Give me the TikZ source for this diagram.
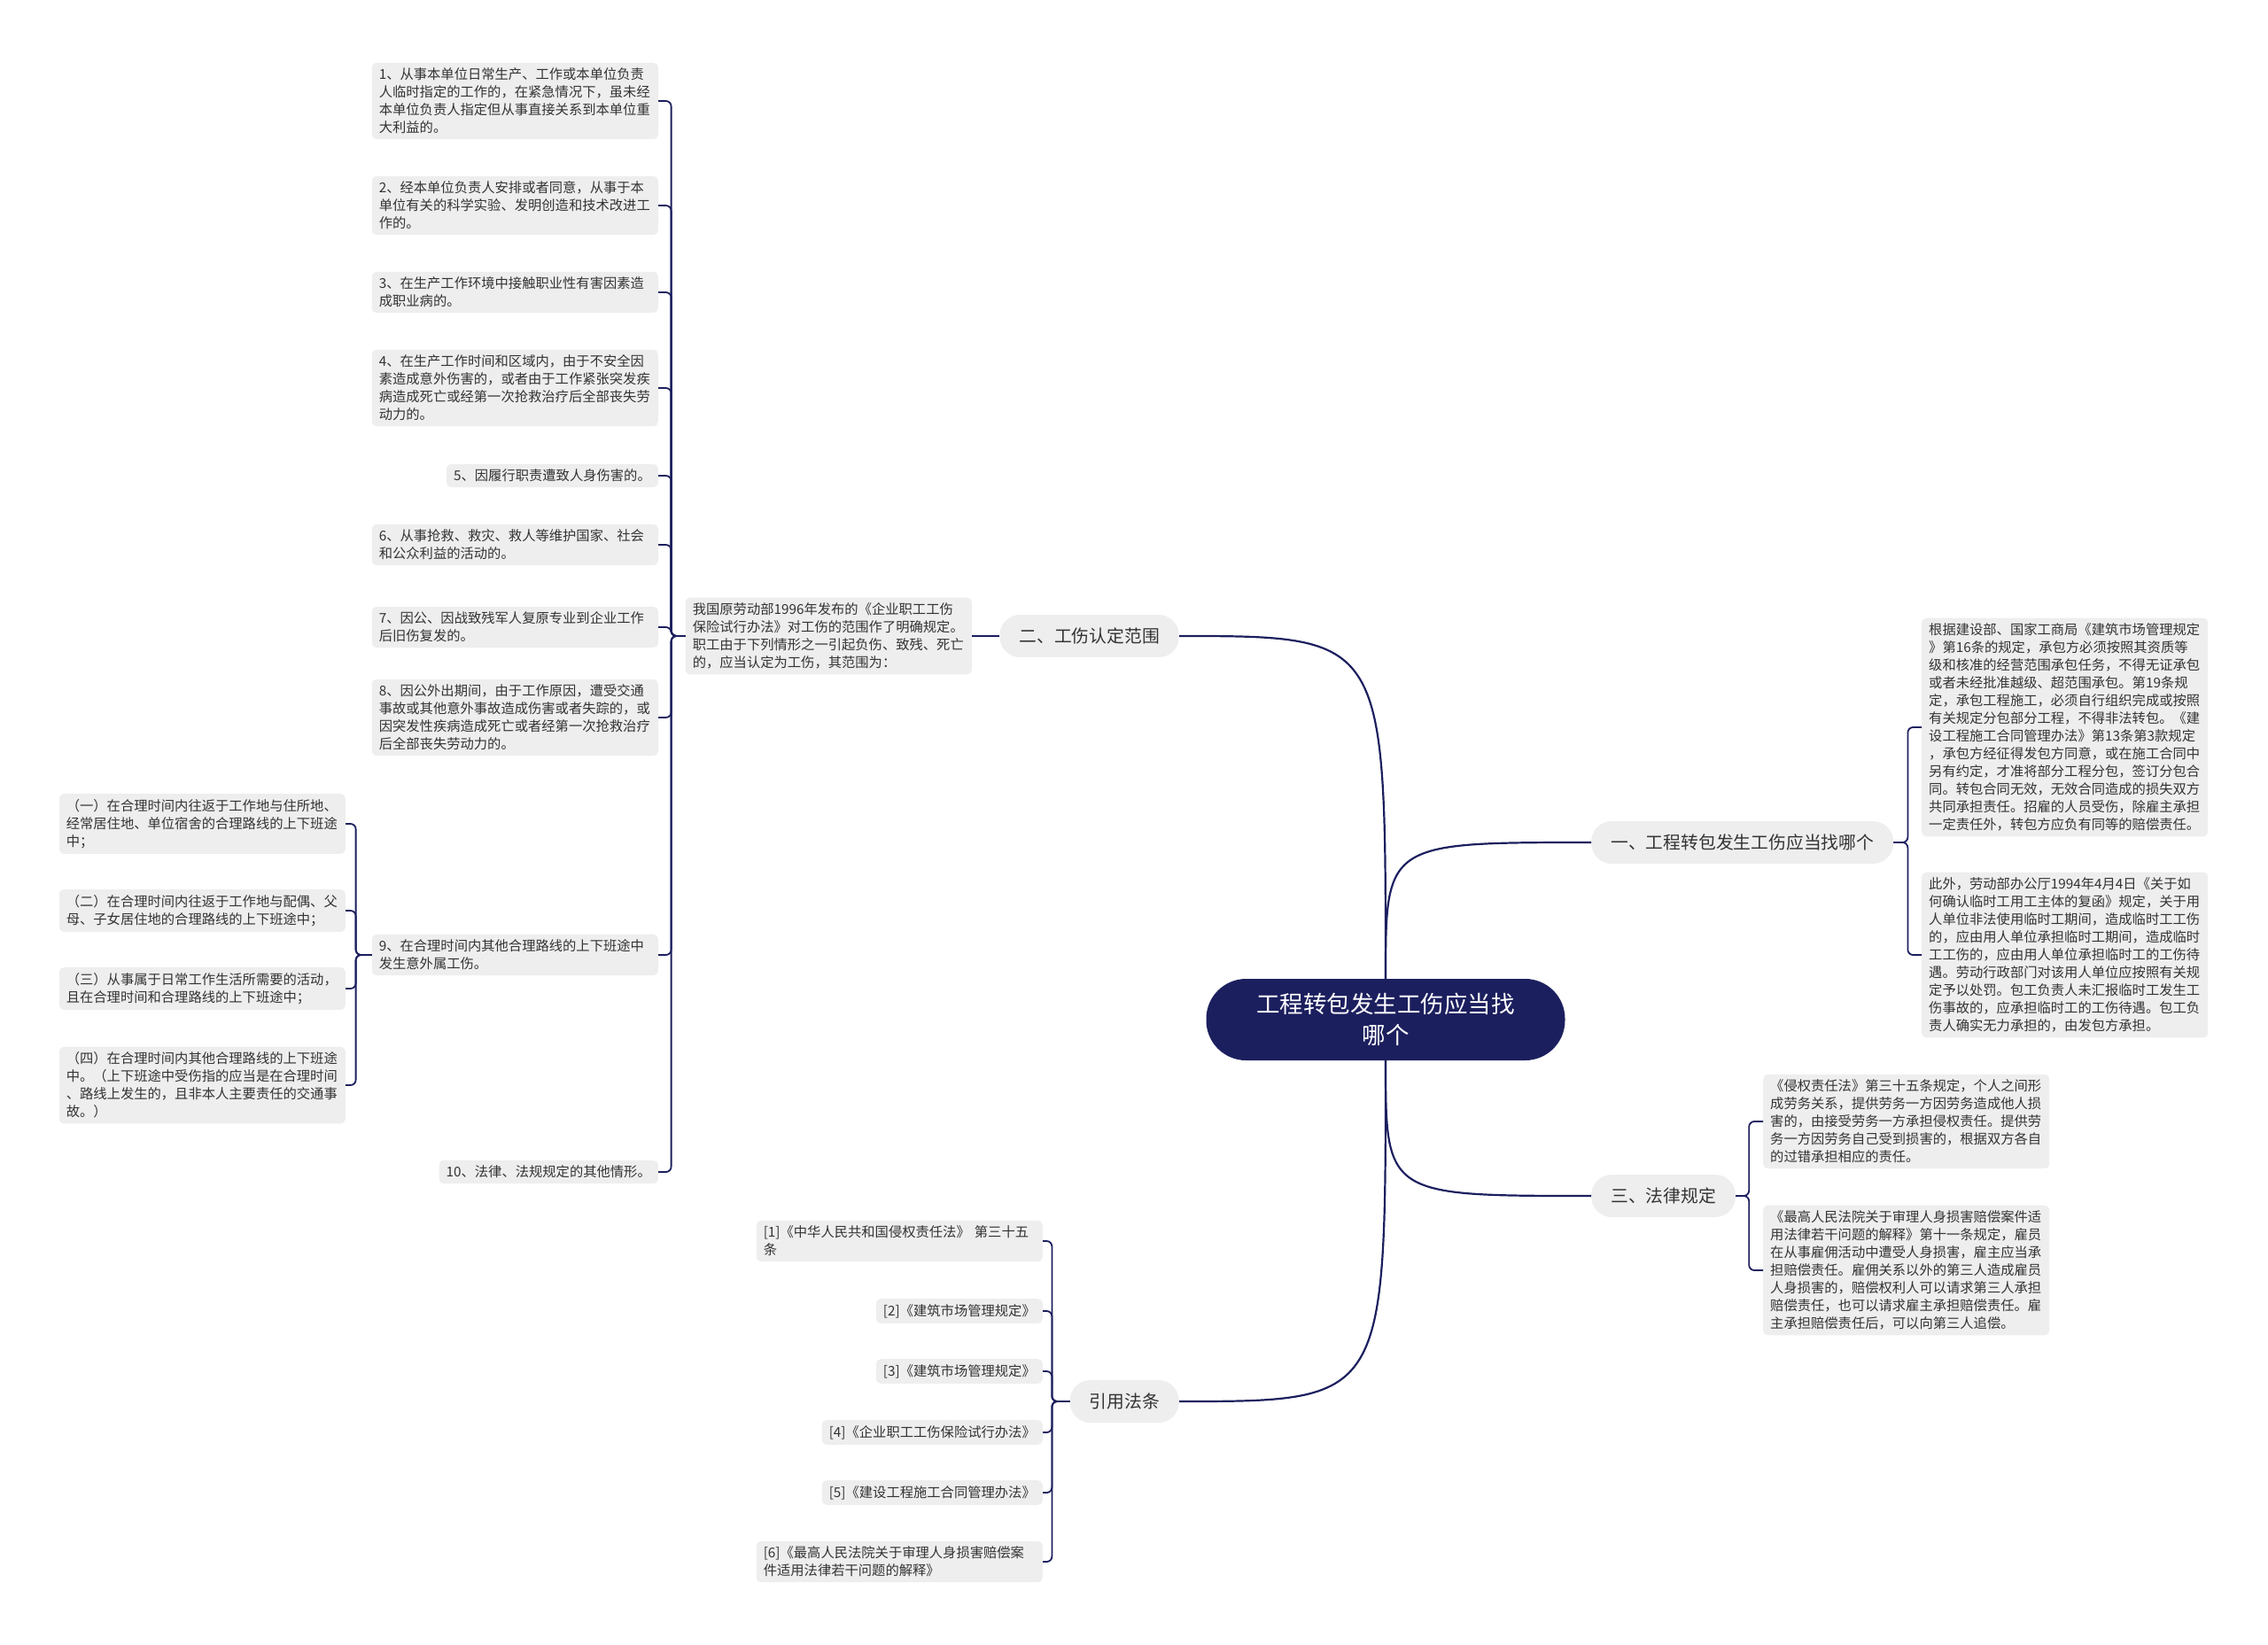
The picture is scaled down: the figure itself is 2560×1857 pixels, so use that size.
\documentclass[tikz,border=0pt]{standalone}
\usepackage{fontspec}
\setmainfont{Noto Sans CJK SC}
\usetikzlibrary{positioning}
\definecolor{navy}{HTML}{1C1F5E}
\definecolor{leafgray}{HTML}{EEEEEE}
\definecolor{inkgray}{HTML}{333333}
\tikzset{
  link/.style={navy,line width=2.2pt},
  brace/.style={navy,line width=1.8pt,rounded corners=6pt},
  leaf/.style={fill=leafgray,rounded corners=5pt,text=inkgray,align=left,
    font=\fontsize{15.3}{20}\selectfont,inner xsep=8pt,inner ysep=6pt},
  leafw/.style={leaf,text width=307pt},
  branch/.style={fill=leafgray,rounded corners=23pt,text=inkgray,
    font=\fontsize{19.8}{24}\selectfont,inner xsep=22pt,minimum height=48pt},
  rootnode/.style={fill=navy,rounded corners=45pt,text=white,align=center,
    font=\fontsize{26.5}{35}\selectfont,minimum width=405pt,minimum height=92pt}
}
\begin{document}
\begin{tikzpicture}[x=1pt,y=-1pt]
  \useasboundingbox (0,0) rectangle (2560,1857);
  % centre topic and the four branches
  \node[rootnode] (root) at (1564,1151) {工程转包发生工伤应当找\\哪个};
  \node[branch,anchor=west] (b1) at (1796,951) {一、工程转包发生工伤应当找哪个};
  \node[branch,anchor=east] (b2) at (1331,718) {二、工伤认定范围};
  \node[branch,anchor=west] (b3) at (1796,1350) {三、法律规定};
  \node[branch,anchor=east] (b4) at (1331,1582) {引用法条};
  \draw[link] (root.north) .. controls (root.north |- b1.west) .. (b1.west);
  \draw[link] (root.north) .. controls (root.north |- b2.east) .. (b2.east);
  \draw[link] (root.south) .. controls (root.south |- b3.west) .. (b3.west);
  \draw[link] (root.south) .. controls (root.south |- b4.east) .. (b4.east);

  % branch 1
  \node[leafw,anchor=west] (contract) at (2169,821) {根据建设部、国家工商局《建筑市场管理规定\\》第16条的规定，承包方必须按照其资质等\\级和核准的经营范围承包任务，不得无证承包\\或者未经批准越级、超范围承包。第19条规\\定，承包工程施工，必须自行组织完成或按照\\有关规定分包部分工程，不得非法转包。《建\\设工程施工合同管理办法》第13条第3款规定\\，承包方经征得发包方同意，或在施工合同中\\另有约定，才准将部分工程分包，签订分包合\\同。转包合同无效，无效合同造成的损失双方\\共同承担责任。招雇的人员受伤，除雇主承担\\一定责任外，转包方应负有同等的赔偿责任。};
  \node[leafw,anchor=west] (casual) at (2169,1078) {此外，劳动部办公厅1994年4月4日《关于如\\何确认临时工用工主体的复函》规定，关于用\\人单位非法使用临时工期间，造成临时工工伤\\的，应由用人单位承担临时工期间，造成临时\\工工伤的，应由用人单位承担临时工的工伤待\\遇。劳动行政部门对该用人单位应按照有关规\\定予以处罚。包工负责人未汇报临时工发生工\\伤事故的，应承担临时工的工伤待遇。包工负\\责人确实无力承担的，由发包方承担。};
  \foreach \leafname in {contract,casual}
    \draw[brace] (b1.east) -- ++(16,0) |- (\leafname.west);

  % branch 2: scope of work injury
  \node[leafw,anchor=east] (intro) at (1097,718) {我国原劳动部1996年发布的《企业职工工伤\\保险试行办法》对工伤的范围作了明确规定。\\职工由于下列情形之一引起负伤、致残、死亡\\的，应当认定为工伤，其范围为：};
  \draw[link] (b2.west) -- (intro.east);
  \foreach \iy/\istyle/\itext [count=\inum] in {
      114/leafw/{1、从事本单位日常生产、工作或本单位负责\\人临时指定的工作的，在紧急情况下，虽未经\\本单位负责人指定但从事直接关系到本单位重\\大利益的。},
      232/leafw/{2、经本单位负责人安排或者同意，从事于本\\单位有关的科学实验、发明创造和技术改进工\\作的。},
      330/leafw/{3、在生产工作环境中接触职业性有害因素造\\成职业病的。},
      438/leafw/{4、在生产工作时间和区域内，由于不安全因\\素造成意外伤害的，或者由于工作紧张突发疾\\病造成死亡或经第一次抢救治疗后全部丧失劳\\动力的。},
      537/leaf/{5、因履行职责遭致人身伤害的。},
      615/leafw/{6、从事抢救、救灾、救人等维护国家、社会\\和公众利益的活动的。},
      708/leafw/{7、因公、因战致残军人复原专业到企业工作\\后旧伤复发的。},
      810/leafw/{8、因公外出期间，由于工作原因，遭受交通\\事故或其他意外事故造成伤害或者失踪的，或\\因突发性疾病造成死亡或者经第一次抢救治疗\\后全部丧失劳动力的。},
      1078/leafw/{9、在合理时间内其他合理路线的上下班途中\\发生意外属工伤。},
      1323/leaf/{10、法律、法规规定的其他情形。}} {
    \node[\istyle,anchor=east] (item\inum) at (743,\iy) {\itext};
    \draw[brace] (intro.west) -- ++(-16,0) |- (item\inum.east);
  }
  % commuting cases under item 9
  \foreach \sy/\stext [count=\snum] in {
      930/{（一）在合理时间内往返于工作地与住所地、\\经常居住地、单位宿舍的合理路线的上下班途\\中；},
      1028/{（二）在合理时间内往返于工作地与配偶、父\\母、子女居住地的合理路线的上下班途中；},
      1116/{（三）从事属于日常工作生活所需要的活动，\\且在合理时间和合理路线的上下班途中；},
      1225/{（四）在合理时间内其他合理路线的上下班途\\中。（上下班途中受伤指的应当是在合理时间\\、路线上发生的，且非本人主要责任的交通事\\故。）}} {
    \node[leafw,anchor=east] (commute\snum) at (390,\sy) {\stext};
    \draw[brace] (item9.west) -- ++(-18,0) |- (commute\snum.east);
  }

  % branch 3
  \node[leafw,anchor=west] (tortlaw) at (1990,1266) {《侵权责任法》第三十五条规定，个人之间形\\成劳务关系，提供劳务一方因劳务造成他人损\\害的，由接受劳务一方承担侵权责任。提供劳\\务一方因劳务自己受到损害的，根据双方各自\\的过错承担相应的责任。};
  \node[leafw,anchor=west] (courtrule) at (1990,1434) {《最高人民法院关于审理人身损害赔偿案件适\\用法律若干问题的解释》第十一条规定，雇员\\在从事雇佣活动中遭受人身损害，雇主应当承\\担赔偿责任。雇佣关系以外的第三人造成雇员\\人身损害的，赔偿权利人可以请求第三人承担\\赔偿责任，也可以请求雇主承担赔偿责任。雇\\主承担赔偿责任后，可以向第三人追偿。};
  \foreach \leafname in {tortlaw,courtrule}
    \draw[brace] (b3.east) -- ++(15,0) |- (\leafname.west);

  % cited laws
  \foreach \ry/\rstyle/\rtext [count=\rnum] in {
      1401/leafw/{[1]《中华人民共和国侵权责任法》 第三十五\\条},
      1480/leaf/{[2]《建筑市场管理规定》},
      1548/leaf/{[3]《建筑市场管理规定》},
      1617/leaf/{[4]《企业职工工伤保险试行办法》},
      1685/leaf/{[5]《建设工程施工合同管理办法》},
      1763/leafw/{[6]《最高人民法院关于审理人身损害赔偿案\\件适用法律若干问题的解释》}} {
    \node[\rstyle,anchor=east] (cite\rnum) at (1177,\ry) {\rtext};
    \draw[brace] (b4.west) -- ++(-20,0) |- (cite\rnum.east);
  }
\end{tikzpicture}
\end{document}
